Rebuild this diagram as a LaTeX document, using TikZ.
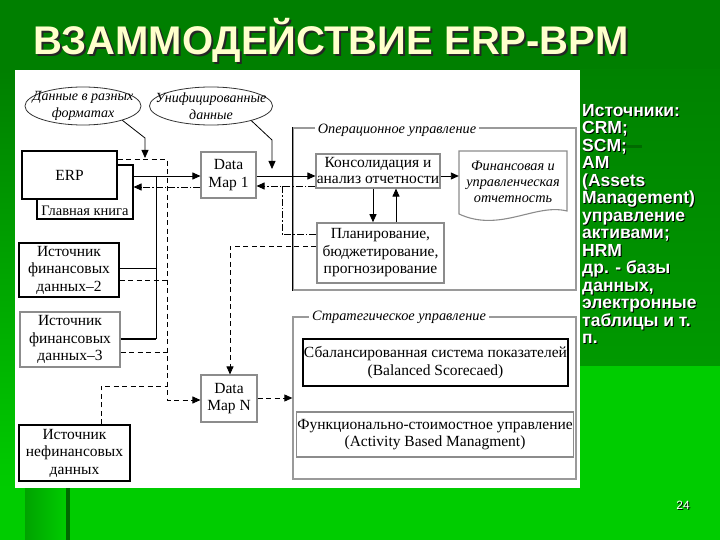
\documentclass[tikz,border=0pt]{standalone}
\usepackage{fontspec}
\setmainfont{Liberation Serif}
\newfontfamily\slidefont{Liberation Sans}
\usetikzlibrary{arrows.meta,positioning,shapes.geometric}

\definecolor{titlegreen}{HTML}{007F00}
\definecolor{panelgreen}{HTML}{009900}
\definecolor{slidegreen}{HTML}{00CC00}
\definecolor{bargreen}{HTML}{006A00}
\definecolor{titleyellow}{HTML}{FFFFCC}
\definecolor{framegray}{HTML}{9A9A9A}
\definecolor{boxgray}{HTML}{8C8C8C}

\begin{document}
\begin{tikzpicture}[x=1pt, y=-1pt, >={Triangle[length=8pt,width=7pt]},
    txt/.style={font=\fontsize{15.5}{17.5}\selectfont, align=center},
    srcbox/.style={txt, draw=black, fill=white, line width=1.1pt, inner sep=0.5pt},
    mapbox/.style={txt, draw=boxgray, fill=white, line width=1.1pt, inner sep=0.5pt},
    cloud/.style={ellipse, draw=black!80, line width=0.8pt, inner sep=0pt},
    cloudtext/.style={font=\itshape\fontsize{14}{17}\selectfont, align=center},
    frame/.style={draw=framegray, line width=1.3pt, inner sep=0pt},
    frametitle/.style={fill=white, font=\itshape\fontsize{14.3}{16}\selectfont, inner xsep=3pt, inner ysep=1pt},
    flow/.style={->, line width=0.9pt},
    dashline/.style={line width=0.9pt, dash pattern=on 5pt off 3.5pt},
    dotline/.style={line width=0.9pt, dash pattern=on 7pt off 2pt on 1.5pt off 2pt},
    slidetext/.style={font=\slidefont\bfseries, inner sep=0pt}]

    % Slide background
    \fill[slidegreen] (0,0) rectangle (720,540);
    \fill[titlegreen] (0,0) rectangle (720,70);
    \shade[top color=panelgreen!85!black, bottom color=panelgreen] (580,70) rectangle (720,365);
    \shade[top color=titlegreen, bottom color=slidegreen] (0,70) rectangle (15,488);
    \shade[left color=slidegreen!80!black, right color=slidegreen] (25,488) rectangle (66,540);
    \fill[bargreen] (66,488) rectangle (70,540);
    \fill[white] (15,70) rectangle (580,488);

    % Title
    \node[slidetext, anchor=base west, text=black!85, font=\slidefont\bfseries\fontsize{40}{44}\selectfont] (titleshade) at (35,57) {ВЗАММОДЕЙСТВИЕ ERP-BPM};
    \node[slidetext, anchor=base west, text=titleyellow, font=\slidefont\bfseries\fontsize{40}{44}\selectfont] (title) at (33,55) {ВЗАММОДЕЙСТВИЕ ERP-BPM};

    % Sources list on the right
    \draw[line width=3pt, bargreen] (583,147) -- (642,147);
    \node[slidetext, anchor=north west, align=left, text=black, font=\slidefont\bfseries\fontsize{17.5}{17.5}\selectfont] (listshade) at (583,105)
        {Источники:\\CRM;\\SCM;\\AM\\(Assets\\Management)\\управление\\активами;\\HRM\\др. - базы\\данных,\\электронные\\таблицы и т.\\п.};
    \node[slidetext, anchor=north west, align=left, text=white, font=\slidefont\bfseries\fontsize{17.5}{17.5}\selectfont] (srclist) at (582,104)
        {Источники:\\CRM;\\SCM;\\AM\\(Assets\\Management)\\управление\\активами;\\HRM\\др. - базы\\данных,\\электронные\\таблицы и т.\\п.};

    % Page number
    \node[text=black, font=\slidefont\fontsize{12}{14}\selectfont] (pageshade) at (684,506) {24};
    \node[text=white, font=\slidefont\fontsize{12}{14}\selectfont] (page) at (683,505) {24};

    % Callouts
    \node[cloud, minimum width=116pt, minimum height=38pt] (fmt) at (83,106) {};
    \node[cloudtext] (fmttext) at (fmt.center) {Данные в разных\\форматах};
    \node[cloud, minimum width=123pt, minimum height=38pt] (unif) at (211,106) {};
    \node[cloudtext] (uniftext) at (unif.center) {Унифицированные\\данные};
    \coordinate (fmtpin) at (145,158);
    \coordinate (unifpin) at (272,169);

    % Data sources
    \node[srcbox, minimum width=96pt, minimum height=54pt] (ledger) at (85,192) {};
    \node[txt, font=\fontsize{14.5}{16}\selectfont, above=0pt of ledger.south] (ledgertext) {Главная книга};
    \node[srcbox, minimum width=95pt, minimum height=48pt] (erp) at (69.5,175) {ERP};
    \node[srcbox, minimum width=100pt, minimum height=54pt] (src2) at (69,270) {Источник\\финансовых\\данных--2};
    \node[mapbox, minimum width=100pt, minimum height=55pt] (src3) at (70,339.5) {Источник\\финансовых\\данных--3};
    \node[srcbox, minimum width=111pt, minimum height=56pt] (srcN) at (74.5,453) {Источник\\нефинансовых\\данных};

    % Data maps
    \node[mapbox, minimum width=55pt, minimum height=46pt] (dm1) at (228.5,175) {Data\\Map 1};
    \node[mapbox, minimum width=56pt, minimum height=47pt] (dmN) at (229,398.5) {Data\\Map N};

    % Operational management
    \node[frame, minimum width=283pt, minimum height=162pt] (opframe) at (434.5,209) {};
    \draw[line width=1.1pt] (opframe.north west) -- (opframe.south west);
    \node[frametitle] (optitle) at (397,130) {Операционное управление};
    \node[mapbox, font=\fontsize{15.5}{16}\selectfont, minimum width=124pt, minimum height=34pt] (cons) at (378,171) {Консолидация и\\анализ отчетности};
    \node[mapbox, line width=1.6pt, minimum width=127pt, minimum height=60pt] (plan) at (380.5,253) {Планирование,\\бюджетирование,\\прогнозирование};
    \fill[white, draw=boxgray, line width=1.1pt] (459,151) -- (567,151) -- (567,211)
        .. controls (535,203) and (500,233) .. (459,214) -- cycle;
    \node[txt, font=\itshape\fontsize{14.3}{16}\selectfont, minimum width=108pt, inner sep=0pt] (fin) at (513,182) {Финансовая и\\управленческая\\отчетность};

    % Strategic management
    \node[frame, minimum width=283pt, minimum height=162pt] (stframe) at (434.5,398) {};
    \node[frametitle] (sttitle) at (399,317) {Стратегическое управление};
    \node[srcbox, minimum width=265pt, minimum height=47pt] (bsc) at (435.5,362.5) {Сбалансированная система показателей\\(Balanced Scorecaed)};
    \node[mapbox, minimum width=276pt, minimum height=45pt] (abm) at (435,434.5) {Функционально-стоимостное управление\\(Activity Based Managment)};

    % Callout pointers
    \draw[->, line width=0.8pt] (fmt.-20) -- (145,138) -- (fmtpin);
    \draw[->, line width=0.8pt] (unif.-20) -- (272,140) -- (unifpin);

    % ERP <-> Data Map 1
    \draw[flow] (ledger.east |- 0,176) -- (dm1.west |- 0,176);
    \draw[dotline, ->] (dm1.west |- 0,187) -- (ledger.east |- 0,187);
    \draw[dashline, ->] (erp.east |- 0,159) -- (167,159) -- (167,400) -- (dmN.west |- 0,400);

    % Other sources
    \draw[line width=0.9pt] (156,176) -- (156,339);
    \draw[line width=0.9pt] (src2.east |- 0,268) -- (156,268);
    \draw[line width=2pt] (src3.east |- 0,339) -- (156.45,339);
    \draw[dashline] (src2.east |- 0,280) -- (167,280);
    \draw[dashline] (src3.east |- 0,352) -- (167,352);
    \draw[dashline] (srcN.north -| 101,0) -- (101,386) -- (167,386);

    % Data Map 1 <-> operational block
    \draw[flow] (dm1.east |- 0,176) -- (cons.west |- 0,176);
    \draw[dotline, ->] (cons.west |- 0,186) -- (dm1.east |- 0,186);
    \draw[dotline] (plan.west |- 0,234) -- (282,234) -- (282,186);
    \draw[dashline, ->] (plan.west |- 0,246) -- (230,246) -- (dmN.north -| 230,0);
    \draw[flow] (cons.east |- 0,176) -- (fin.west |- 0,176);
    \draw[flow] (cons.south -| 373,0) -- (plan.north -| 373,0);
    \draw[flow] (plan.north -| 396,0) -- (cons.south -| 396,0);

    % Data Map N -> strategic block
    \draw[dashline, ->] (dmN.east |- 0,398) -- (stframe.west |- 0,398);

\end{tikzpicture}
\end{document}
